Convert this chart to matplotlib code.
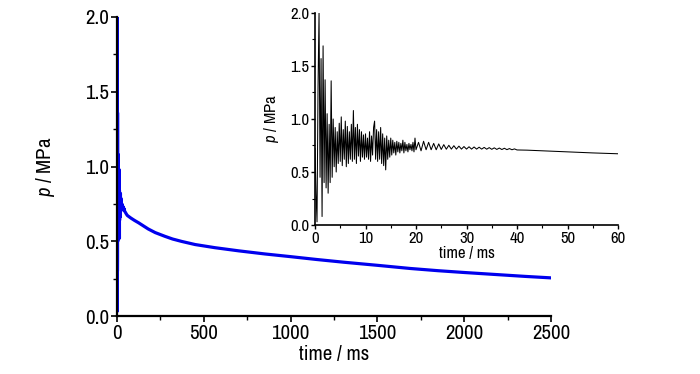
import numpy as np
import matplotlib
matplotlib.use("Agg")
import matplotlib.pyplot as plt
from matplotlib.ticker import MultipleLocator

# ---- data ----
# early transient, 0-20 ms, 0.2 ms sampling
t_early = np.round(np.arange(0, 20.01, 0.2), 2)
p_early = [
    0.72, 0.30, 0.03, 1.30, 2.00, 0.45, 1.57, 0.08, 1.69, 0.40,
    1.37, 0.35, 1.05, 0.30, 0.95, 0.40, 1.36, 0.45, 1.00, 0.55,
    0.92, 0.50, 0.88, 0.58, 0.96, 0.60, 1.02, 0.56, 0.90, 0.62,
    0.98, 0.55, 0.93, 0.58, 0.88, 0.62, 0.95, 0.60, 1.08, 0.62,
    0.92, 0.58, 0.95, 0.65, 0.90, 0.60, 0.88, 0.64, 0.85, 0.62,
    0.86, 0.64, 0.82, 0.62, 0.88, 0.60, 0.84, 0.66, 0.92, 0.98,
    0.62, 0.90, 0.60, 0.88, 0.62, 0.92, 0.58, 0.86, 0.56, 0.82,
    0.52, 0.84, 0.62, 0.80, 0.64, 0.82, 0.66, 0.80, 0.68, 0.78,
    0.66, 0.79, 0.69, 0.78, 0.68, 0.77, 0.70, 0.80, 0.68, 0.78,
    0.70, 0.76, 0.69, 0.77, 0.71, 0.76, 0.70, 0.78, 0.69, 0.82,
    0.71,
]
# ringing, 20.5-40 ms, 0.5 ms sampling
t_ring = np.round(np.arange(20.5, 40.01, 0.5), 2)
p_ring = [
    0.78, 0.70, 0.79, 0.71, 0.78, 0.71, 0.77, 0.71, 0.765, 0.713,
    0.758, 0.715, 0.752, 0.716, 0.748, 0.716, 0.744, 0.716, 0.740, 0.716,
    0.738, 0.716, 0.736, 0.716, 0.734, 0.716, 0.732, 0.715, 0.730, 0.714,
    0.728, 0.713, 0.726, 0.712, 0.724, 0.711, 0.721, 0.710, 0.718, 0.708,
]
# slow decay (ms)
t_decay = [42, 45, 50, 55, 60, 80, 100, 125, 150, 180, 220, 276, 320, 372,
           450, 564, 700, 852, 1000, 1150, 1304, 1500, 1688, 1850, 2000,
           2200, 2350, 2500]
p_decay = [0.706, 0.700, 0.690, 0.680, 0.672, 0.655, 0.640, 0.623, 0.604,
           0.582, 0.558, 0.533, 0.515, 0.499, 0.478, 0.457, 0.436, 0.415,
           0.397, 0.378, 0.360, 0.339, 0.318, 0.303, 0.291, 0.276, 0.265,
           0.255]

t_all = np.concatenate([t_early, t_ring, t_decay])
p_all = np.concatenate([p_early, p_ring, p_decay])

x_ticks_main = [0, 500, 1000, 1500, 2000, 2500]
y_ticks = [0.0, 0.5, 1.0, 1.5, 2.0]
x_ticks_inset = [0, 10, 20, 30, 40, 50, 60]

# ---- style ----
plt.rcParams['font.family'] = ['Archivo Narrow', 'Liberation Sans', 'DejaVu Sans']
plt.rcParams['mathtext.fontset'] = 'custom'
plt.rcParams['mathtext.it'] = 'Archivo Narrow:italic'
plt.rcParams['mathtext.rm'] = 'Archivo Narrow'

fig = plt.figure(figsize=(7.0, 3.74), dpi=100)

ax = fig.add_axes([117/700, 1-316/374, (551-117)/700, (316-17)/374])
ax.plot(t_all, p_all, color='#0000ee', lw=2.3, solid_joinstyle='round')
ax.set_xlim(0, 2500)
ax.set_ylim(0, 2.0)
ax.set_xticks(x_ticks_main)
ax.set_yticks(y_ticks)
ax.set_yticklabels([f"{v:.1f}" for v in y_ticks])
ax.xaxis.set_minor_locator(MultipleLocator(250))
ax.yaxis.set_minor_locator(MultipleLocator(0.25))
for s in ['top', 'right']:
    ax.spines[s].set_visible(False)
for s in ['left', 'bottom']:
    ax.spines[s].set_linewidth(1.6)
ax.tick_params(which='major', direction='out', length=4, width=1.2, labelsize=15, pad=1.5)
ax.tick_params(which='minor', direction='out', length=3, width=1.0)
ax.set_xlabel('time / ms', fontsize=15, labelpad=2)
ax.set_ylabel('$p$ / MPa', fontsize=15, labelpad=20)

ins = fig.add_axes([315/700, 1-225/374, (618-315)/700, (225-13)/374])
mask = t_all <= 60
ins.plot(t_all[mask], p_all[mask], color='black', lw=0.75)
ins.set_xlim(0, 60)
ins.set_ylim(0, 2.0)
ins.set_xticks(x_ticks_inset)
ins.set_yticks(y_ticks)
ins.set_yticklabels([f"{v:.1f}" for v in y_ticks])
ins.xaxis.set_minor_locator(MultipleLocator(5))
ins.yaxis.set_minor_locator(MultipleLocator(0.25))
for s in ['top', 'right']:
    ins.spines[s].set_visible(False)
for s in ['left', 'bottom']:
    ins.spines[s].set_linewidth(1.2)
ins.tick_params(which='major', direction='out', length=3, width=1.0, labelsize=12, pad=1)
ins.tick_params(which='minor', direction='out', length=2, width=0.8)
ins.set_xlabel('time / ms', fontsize=12, labelpad=0)
ins.set_ylabel('$p$ / MPa', fontsize=12, labelpad=7)
ins.patch.set_alpha(0)

fig.savefig('out.png', dpi=100)
